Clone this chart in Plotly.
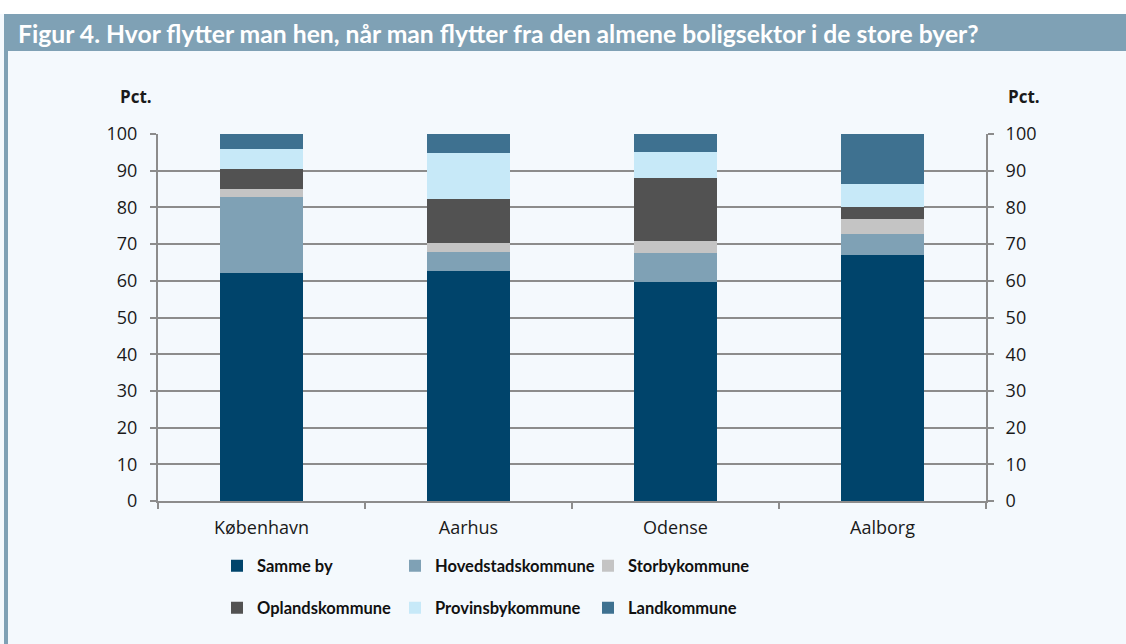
import plotly.graph_objects as go

cities = ["København", "Aarhus", "Odense", "Aalborg"]
samme_by = [62.0, 62.7, 59.8, 67.0]
hovedstad = [20.7, 5.1, 7.9, 5.8]
storby = [2.3, 2.5, 3.1, 4.0]
opland = [5.6, 11.9, 17.3, 3.2]
provinsby = [5.4, 12.7, 6.9, 6.3]
land = [4.0, 5.1, 5.0, 13.7]

series_names = ["Samme by", "Hovedstadskommune", "Storbykommune",
                "Oplandskommune", "Provinsbykommune", "Landkommune"]
series_values = [samme_by, hovedstad, storby, opland, provinsby, land]
series_colors = ["#00446b", "#7fa1b5", "#c4c4c4", "#525252", "#c7e9f8", "#3e7190"]

W, H = 1126, 644
L, R, T, B = 158, 140, 134, 143
pw, ph = W - L - R, H - T - B


def px(x):
    return (x - L) / pw


def py(y):
    return (H - B - y) / ph


BG = "#f4f9fd"
BAR = "#7fa1b5"
GRID = "#8c8c8c"
TICKFONT = dict(family="Open Sans", size=18, color="#1a1a1a")
LEGFONT = dict(family="Lato", size=16.5, color="#111111", weight="bold")

# legend text start (px) per column and centre (px) per row
col_text_x = [257, 435, 628]
row_y = [566, 608]

fig = go.Figure()
layout_legends = {}
for i, (name, vals, col) in enumerate(zip(series_names, series_values, series_colors)):
    key = "legend" if i == 0 else f"legend{i + 1}"
    fig.add_trace(go.Bar(name=name, x=cities, y=vals, marker=dict(color=col, line=dict(width=0)),
                         legend=key))
    layout_legends[key] = dict(x=px(col_text_x[i % 3] - 40), xanchor="left",
                               y=py(row_y[i // 3]), yanchor="middle",
                               bgcolor="rgba(0,0,0,0)", font=LEGFONT)
# transparent companion trace so the right-hand axis is drawn
fig.add_trace(go.Scatter(x=cities, y=samme_by, yaxis="y2", mode="markers",
                         marker=dict(opacity=0), showlegend=False, hoverinfo="skip"))

fig.update_layout(
    width=W, height=H,
    margin=dict(l=L, r=R, t=T, b=B, pad=0),
    paper_bgcolor=BG, plot_bgcolor=BG,
    barmode="stack", bargap=0.6,
    showlegend=True,
    xaxis=dict(showline=True, linecolor=GRID, linewidth=2, ticks="outside", tickson="boundaries",
               ticklen=6, tickwidth=2, tickcolor=GRID, tickfont=TICKFONT, ticklabelstandoff=9,
               showgrid=False),
    yaxis=dict(range=[0, 100], tickvals=list(range(0, 101, 10)), showline=True, linecolor=GRID,
               linewidth=2, ticks="outside", ticklen=6, tickwidth=2, tickcolor=GRID,
               showgrid=True, gridcolor=GRID, gridwidth=2, zeroline=False,
               tickfont=TICKFONT, ticklabelstandoff=9),
    yaxis2=dict(range=[0, 100], tickvals=list(range(0, 101, 10)), overlaying="y", side="right",
                showline=True, linecolor=GRID, linewidth=2, ticks="outside", ticklen=6, tickwidth=2,
                tickcolor=GRID, showgrid=False, zeroline=False, tickfont=TICKFONT,
                ticklabelstandoff=8),
    shapes=[
        dict(type="rect", xref="paper", yref="paper", x0=px(0), x1=px(W), y0=py(14), y1=py(0),
             fillcolor="white", line=dict(width=0), layer="below"),
        dict(type="rect", xref="paper", yref="paper", x0=px(4), x1=px(W), y0=py(51), y1=py(14),
             fillcolor=BAR, line=dict(width=0), layer="below"),
        dict(type="rect", xref="paper", yref="paper", x0=px(4), x1=px(8), y0=py(H), y1=py(51),
             fillcolor=BAR, line=dict(width=0), layer="below"),
    ],
    annotations=[
        dict(text="Figur 4. Hvor flytter man hen, når man flytter fra den almene boligsektor i de store byer?",
             xref="paper", yref="paper", x=px(16), y=py(33), xanchor="left", yanchor="middle",
             showarrow=False, font=dict(family="Lato", size=24.7, color="white", weight="bold")),
        dict(text="Pct.", xref="paper", yref="paper", x=px(136), y=py(97), xanchor="center",
             yanchor="middle", showarrow=False,
             font=dict(family="Open Sans", size=17, color="#1a1a1a", weight="bold")),
        dict(text="Pct.", xref="paper", yref="paper", x=px(1024), y=py(97), xanchor="center",
             yanchor="middle", showarrow=False,
             font=dict(family="Open Sans", size=17, color="#1a1a1a", weight="bold")),
    ],
    **layout_legends,
)

fig.write_html("out.html", config={"displayModeBar": False},
               post_script="document.body.style.margin='0px';")
